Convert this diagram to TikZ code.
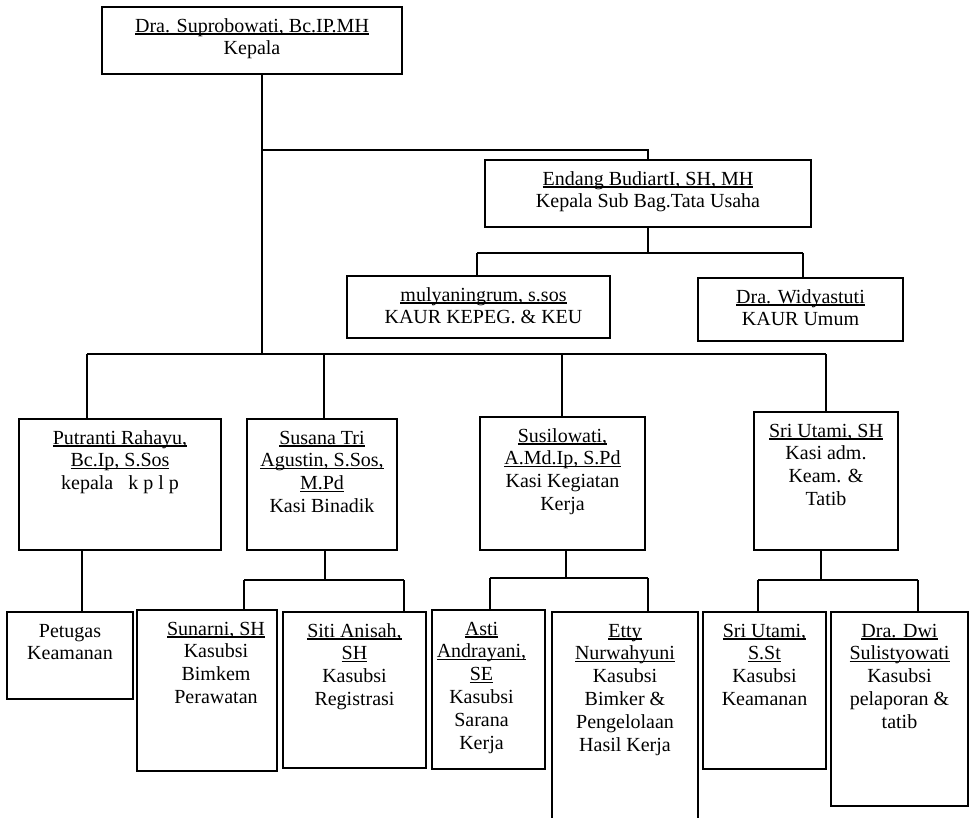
\documentclass[tikz,border=0pt]{standalone}
\usepackage{fontspec}
\setmainfont{Liberation Serif}
\newcommand{\uln}[1]{\leavevmode\setbox0\hbox{#1}\rlap{\rule[-2.6pt]{\wd0}{1.2pt}}\box0}
\newcommand{\btext}[4]{\parbox[c][#2pt][t]{#1pt}{\centering#3\rule{0pt}{25pt}#4}}
\tikzset{
  obox/.style={draw, line width=1.6pt, inner sep=0pt, outer sep=0pt, rectangle,
    font=\fontsize{20}{22.8}\selectfont},
  conn/.style={line width=1.6pt}
}
\begin{document}
\begin{tikzpicture}[x=1pt,y=-1pt]
\useasboundingbox (0,0) rectangle (972,817);
\clip (0,0) rectangle (972,817);
\fill[white] (0,0) rectangle (972,817);

% boxes
\node[obox] (kepala) at (252,40.5) {\btext{300}{67}{}{\uln{Dra. Suprobowati, Bc.IP.MH}\\Kepala}};
\node[obox] (endang) at (648,193.5) {\btext{326}{67}{}{\uln{Endang BudiartI, SH, MH}\\Kepala Sub Bag.Tata Usaha}};
\node[obox] (mulya) at (478.5,307) {\btext{263}{62}{\leftskip=10pt plus 1fil\relax}{\uln{mulyaningrum, s.sos}\\KAUR KEPEG. \& KEU}};
\node[obox] (widya) at (800.5,309.5) {\btext{205}{63}{}{\uln{Dra. Widyastuti}\\KAUR Umum}};

\node[obox] (putranti) at (120,484.5) {\btext{202}{131}{}{\uln{Putranti Rahayu,}\\\uln{Bc.Ip, S.Sos}\\kepala\hspace{15pt}k p l p}};
\node[obox] (susana) at (322,484.5) {\btext{150}{131}{}{\uln{Susana Tri}\\\uln{Agustin, S.Sos,}\\\uln{M.Pd}\\Kasi Binadik}};
\node[obox] (susilo) at (562.5,483.5) {\btext{165}{133}{}{\uln{Susilowati,}\\\uln{A.Md.Ip, S.Pd}\\Kasi Kegiatan\\Kerja}};
\node[obox] (sriutami) at (826,481) {\btext{144}{138}{}{\uln{Sri Utami, SH}\\Kasi adm.\\Keam. \&\\Tatib}};

\node[obox] (petugas) at (70,655.5) {\btext{126}{87}{}{Petugas\\Keamanan}};
\node[obox] (sunarni) at (207,690.5) {\btext{140}{161}{\leftskip=18pt plus 1fil\relax}{\uln{Sunarni, SH}\\Kasubsi\\Bimkem\\Perawatan}};
\node[obox] (siti) at (354.5,690) {\btext{143}{156}{}{\uln{Siti Anisah,}\\\uln{SH}\\Kasubsi\\Registrasi}};
\node[obox] (asti) at (488.5,689.5) {\btext{113}{159}{\rightskip=14pt plus 1fil\relax}{\uln{Asti}\\\uln{Andrayani,}\\\uln{SE}\\Kasubsi\\Sarana\\Kerja}};
\node[obox] (etty) at (625,726) {\btext{146}{228}{}{\uln{Etty}\\\uln{Nurwahyuni}\\Kasubsi\\Bimker \&\\Pengelolaan\\Hasil Kerja}};
\node[obox] (sriutami2) at (764.5,690.5) {\btext{123}{157}{}{\uln{Sri Utami,}\\\uln{S.St}\\Kasubsi\\Keamanan}};
\node[obox] (dwi) at (899.5,709) {\btext{137}{194}{}{\uln{Dra. Dwi}\\\uln{Sulistyowati}\\Kasubsi\\pelaporan \&\\tatib}};

% junction coordinates
\coordinate (j0) at (262,150);
\coordinate (mainbar) at (262,354);
\coordinate (barL) at (87,354);
\coordinate (barR) at (826,354);
\coordinate (d2) at (324,354);
\coordinate (d3) at (562,354);
\coordinate (e1) at (648,253);
\coordinate (e1L) at (477,253);
\coordinate (e1R) at (803,253);
\coordinate (px) at (82,580);
\coordinate (s0) at (325,580);
\coordinate (sL) at (244,580);
\coordinate (sR) at (404,580);
\coordinate (u0) at (566,578);
\coordinate (uL) at (490,578);
\coordinate (uR) at (648,578);
\coordinate (t0) at (821,580);
\coordinate (tL) at (758,580);
\coordinate (tR) at (918,580);

% connectors
\draw[conn] (kepala.south -| mainbar) -- (mainbar);
\draw[conn] (j0) -| (endang.north);
\draw[conn] (endang.south) -- (e1);
\draw[conn] (e1L) -- (e1R);
\draw[conn] (e1L) -- (e1L |- mulya.north);
\draw[conn] (e1R) -- (e1R |- widya.north);
\draw[conn] (barL) -- (barR);
\draw[conn] (barL) -- (barL |- putranti.north);
\draw[conn] (d2) -- (d2 |- susana.north);
\draw[conn] (d3) -- (d3 |- susilo.north);
\draw[conn] (barR) -- (sriutami.north);
\draw[conn] (putranti.south -| px) -- (petugas.north -| px);
\draw[conn] (susana.south -| s0) -- (s0);
\draw[conn] (sL) -- (sR);
\draw[conn] (sL) -- (sL |- sunarni.north);
\draw[conn] (sR) -- (sR |- siti.north);
\draw[conn] (susilo.south -| u0) -- (u0);
\draw[conn] (uL) -- (uR);
\draw[conn] (uL) -- (uL |- asti.north);
\draw[conn] (uR) -- (uR |- etty.north);
\draw[conn] (sriutami.south -| t0) -- (t0);
\draw[conn] (tL) -- (tR);
\draw[conn] (tL) -- (tL |- sriutami2.north);
\draw[conn] (tR) -- (tR |- dwi.north);
\end{tikzpicture}
\end{document}
